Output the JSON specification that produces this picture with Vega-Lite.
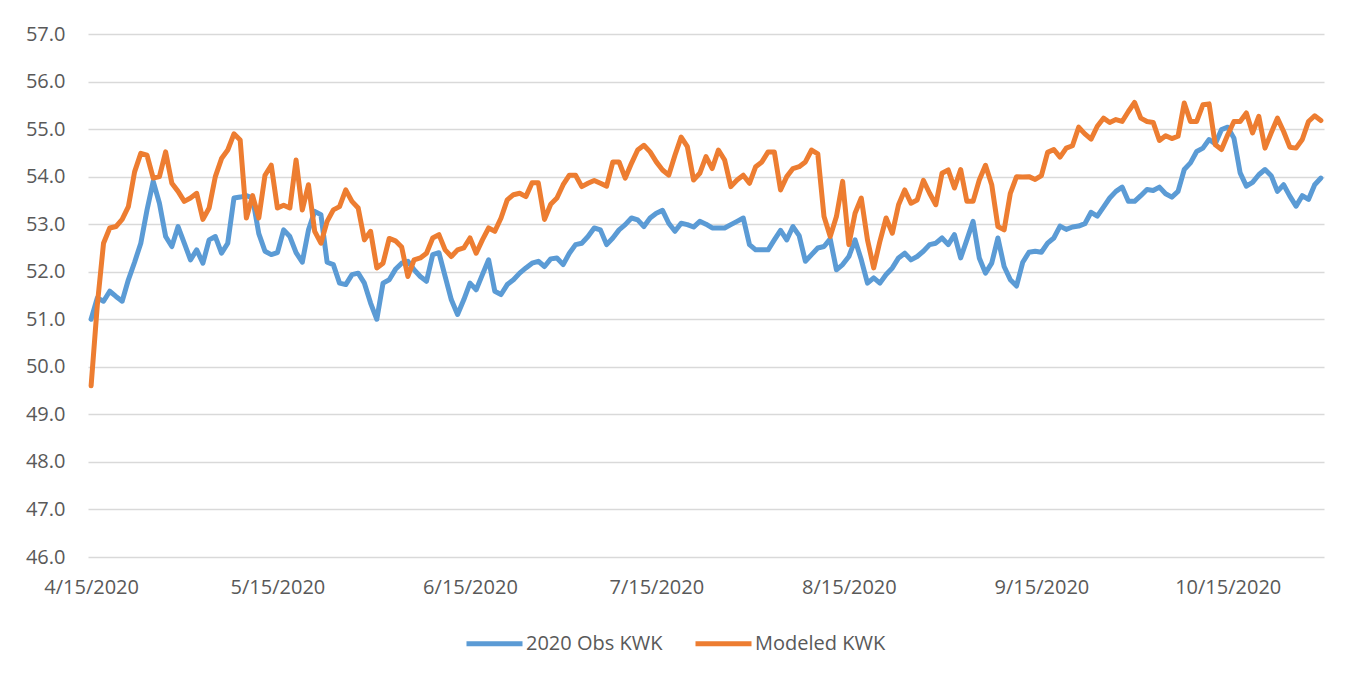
{
  "$schema": "https://vega.github.io/schema/vega-lite/v6.json",
  "width": 1236,
  "height": 523,
  "autosize": {"type": "none"},
  "padding": {"left": 88, "top": 34, "right": 32, "bottom": 119},
  "background": "white",
  "config": {"view": {"stroke": null}, "font": "Open Sans"},
  "data": {"values": [
    {"date":"2020-04-15","obs":51.0,"mod":49.6},
    {"date":"2020-04-16","obs":51.45,"mod":51.3},
    {"date":"2020-04-17","obs":51.38,"mod":52.6},
    {"date":"2020-04-18","obs":51.59,"mod":52.92},
    {"date":"2020-04-19","obs":51.48,"mod":52.95},
    {"date":"2020-04-20","obs":51.38,"mod":53.1},
    {"date":"2020-04-21","obs":51.83,"mod":53.37},
    {"date":"2020-04-22","obs":52.2,"mod":54.1},
    {"date":"2020-04-23","obs":52.6,"mod":54.49},
    {"date":"2020-04-24","obs":53.3,"mod":54.45},
    {"date":"2020-04-25","obs":53.9,"mod":53.97},
    {"date":"2020-04-26","obs":53.44,"mod":54.0},
    {"date":"2020-04-27","obs":52.74,"mod":54.52},
    {"date":"2020-04-28","obs":52.53,"mod":53.86},
    {"date":"2020-04-29","obs":52.95,"mod":53.69},
    {"date":"2020-04-30","obs":52.6,"mod":53.48},
    {"date":"2020-05-01","obs":52.25,"mod":53.55},
    {"date":"2020-05-02","obs":52.46,"mod":53.65},
    {"date":"2020-05-03","obs":52.18,"mod":53.1},
    {"date":"2020-05-04","obs":52.67,"mod":53.34},
    {"date":"2020-05-05","obs":52.74,"mod":54.0},
    {"date":"2020-05-06","obs":52.39,"mod":54.38},
    {"date":"2020-05-07","obs":52.6,"mod":54.56},
    {"date":"2020-05-08","obs":53.55,"mod":54.9},
    {"date":"2020-05-09","obs":53.57,"mod":54.77},
    {"date":"2020-05-10","obs":53.6,"mod":53.13},
    {"date":"2020-05-11","obs":53.55,"mod":53.6},
    {"date":"2020-05-12","obs":52.8,"mod":53.13},
    {"date":"2020-05-13","obs":52.43,"mod":54.03},
    {"date":"2020-05-14","obs":52.36,"mod":54.24},
    {"date":"2020-05-15","obs":52.4,"mod":53.34},
    {"date":"2020-05-16","obs":52.88,"mod":53.4},
    {"date":"2020-05-17","obs":52.74,"mod":53.34},
    {"date":"2020-05-18","obs":52.4,"mod":54.35},
    {"date":"2020-05-19","obs":52.2,"mod":53.3},
    {"date":"2020-05-20","obs":52.88,"mod":53.83},
    {"date":"2020-05-21","obs":53.27,"mod":52.85},
    {"date":"2020-05-22","obs":53.2,"mod":52.6},
    {"date":"2020-05-23","obs":52.2,"mod":53.06},
    {"date":"2020-05-24","obs":52.15,"mod":53.3},
    {"date":"2020-05-25","obs":51.76,"mod":53.37},
    {"date":"2020-05-26","obs":51.73,"mod":53.72},
    {"date":"2020-05-27","obs":51.94,"mod":53.48},
    {"date":"2020-05-28","obs":51.97,"mod":53.34},
    {"date":"2020-05-29","obs":51.76,"mod":52.67},
    {"date":"2020-05-30","obs":51.34,"mod":52.85},
    {"date":"2020-05-31","obs":51.0,"mod":52.08},
    {"date":"2020-06-01","obs":51.76,"mod":52.18},
    {"date":"2020-06-02","obs":51.83,"mod":52.7},
    {"date":"2020-06-03","obs":52.05,"mod":52.65},
    {"date":"2020-06-04","obs":52.18,"mod":52.52},
    {"date":"2020-06-05","obs":52.22,"mod":51.9},
    {"date":"2020-06-06","obs":52.04,"mod":52.25},
    {"date":"2020-06-07","obs":51.9,"mod":52.29},
    {"date":"2020-06-08","obs":51.8,"mod":52.39},
    {"date":"2020-06-09","obs":52.36,"mod":52.71},
    {"date":"2020-06-10","obs":52.4,"mod":52.78},
    {"date":"2020-06-11","obs":51.9,"mod":52.46},
    {"date":"2020-06-12","obs":51.41,"mod":52.32},
    {"date":"2020-06-13","obs":51.1,"mod":52.46},
    {"date":"2020-06-14","obs":51.41,"mod":52.5},
    {"date":"2020-06-15","obs":51.76,"mod":52.71},
    {"date":"2020-06-16","obs":51.62,"mod":52.39},
    {"date":"2020-06-17","obs":51.94,"mod":52.67},
    {"date":"2020-06-18","obs":52.25,"mod":52.92},
    {"date":"2020-06-19","obs":51.59,"mod":52.85},
    {"date":"2020-06-20","obs":51.52,"mod":53.13},
    {"date":"2020-06-21","obs":51.73,"mod":53.51},
    {"date":"2020-06-22","obs":51.83,"mod":53.62},
    {"date":"2020-06-23","obs":51.97,"mod":53.65},
    {"date":"2020-06-24","obs":52.08,"mod":53.58},
    {"date":"2020-06-25","obs":52.18,"mod":53.87},
    {"date":"2020-06-26","obs":52.22,"mod":53.87},
    {"date":"2020-06-27","obs":52.11,"mod":53.1},
    {"date":"2020-06-28","obs":52.27,"mod":53.42},
    {"date":"2020-06-29","obs":52.29,"mod":53.55},
    {"date":"2020-06-30","obs":52.15,"mod":53.83},
    {"date":"2020-07-01","obs":52.39,"mod":54.03},
    {"date":"2020-07-02","obs":52.57,"mod":54.03},
    {"date":"2020-07-03","obs":52.6,"mod":53.79},
    {"date":"2020-07-04","obs":52.74,"mod":53.86},
    {"date":"2020-07-05","obs":52.92,"mod":53.92},
    {"date":"2020-07-06","obs":52.88,"mod":53.86},
    {"date":"2020-07-07","obs":52.57,"mod":53.8},
    {"date":"2020-07-08","obs":52.71,"mod":54.31},
    {"date":"2020-07-09","obs":52.88,"mod":54.31},
    {"date":"2020-07-10","obs":52.99,"mod":53.97},
    {"date":"2020-07-11","obs":53.13,"mod":54.28},
    {"date":"2020-07-12","obs":53.09,"mod":54.56},
    {"date":"2020-07-13","obs":52.95,"mod":54.66},
    {"date":"2020-07-14","obs":53.13,"mod":54.52},
    {"date":"2020-07-15","obs":53.23,"mod":54.31},
    {"date":"2020-07-16","obs":53.29,"mod":54.14},
    {"date":"2020-07-17","obs":53.02,"mod":54.03},
    {"date":"2020-07-18","obs":52.85,"mod":54.45},
    {"date":"2020-07-19","obs":53.02,"mod":54.83},
    {"date":"2020-07-20","obs":52.99,"mod":54.63},
    {"date":"2020-07-21","obs":52.94,"mod":53.93},
    {"date":"2020-07-22","obs":53.06,"mod":54.07},
    {"date":"2020-07-23","obs":53.0,"mod":54.42},
    {"date":"2020-07-24","obs":52.92,"mod":54.17},
    {"date":"2020-07-25","obs":52.92,"mod":54.56},
    {"date":"2020-07-26","obs":52.92,"mod":54.35},
    {"date":"2020-07-27","obs":52.99,"mod":53.79},
    {"date":"2020-07-28","obs":53.06,"mod":53.93},
    {"date":"2020-07-29","obs":53.13,"mod":54.03},
    {"date":"2020-07-30","obs":52.57,"mod":53.86},
    {"date":"2020-07-31","obs":52.46,"mod":54.21},
    {"date":"2020-08-01","obs":52.46,"mod":54.31},
    {"date":"2020-08-02","obs":52.46,"mod":54.52},
    {"date":"2020-08-03","obs":52.67,"mod":54.52},
    {"date":"2020-08-04","obs":52.87,"mod":53.72},
    {"date":"2020-08-05","obs":52.67,"mod":54.0},
    {"date":"2020-08-06","obs":52.95,"mod":54.17},
    {"date":"2020-08-07","obs":52.76,"mod":54.21},
    {"date":"2020-08-08","obs":52.22,"mod":54.31},
    {"date":"2020-08-09","obs":52.36,"mod":54.56},
    {"date":"2020-08-10","obs":52.5,"mod":54.48},
    {"date":"2020-08-11","obs":52.53,"mod":53.16},
    {"date":"2020-08-12","obs":52.69,"mod":52.74},
    {"date":"2020-08-13","obs":52.04,"mod":53.16},
    {"date":"2020-08-14","obs":52.15,"mod":53.9},
    {"date":"2020-08-15","obs":52.32,"mod":52.57},
    {"date":"2020-08-16","obs":52.67,"mod":53.23},
    {"date":"2020-08-17","obs":52.25,"mod":53.55},
    {"date":"2020-08-18","obs":51.76,"mod":52.67},
    {"date":"2020-08-19","obs":51.87,"mod":52.08},
    {"date":"2020-08-20","obs":51.76,"mod":52.64},
    {"date":"2020-08-21","obs":51.94,"mod":53.13},
    {"date":"2020-08-22","obs":52.08,"mod":52.81},
    {"date":"2020-08-23","obs":52.29,"mod":53.41},
    {"date":"2020-08-24","obs":52.39,"mod":53.72},
    {"date":"2020-08-25","obs":52.25,"mod":53.44},
    {"date":"2020-08-26","obs":52.32,"mod":53.51},
    {"date":"2020-08-27","obs":52.43,"mod":53.92},
    {"date":"2020-08-28","obs":52.57,"mod":53.65},
    {"date":"2020-08-29","obs":52.6,"mod":53.41},
    {"date":"2020-08-30","obs":52.71,"mod":54.07},
    {"date":"2020-08-31","obs":52.57,"mod":54.14},
    {"date":"2020-09-01","obs":52.78,"mod":53.76},
    {"date":"2020-09-02","obs":52.29,"mod":54.15},
    {"date":"2020-09-03","obs":52.67,"mod":53.48},
    {"date":"2020-09-04","obs":53.06,"mod":53.48},
    {"date":"2020-09-05","obs":52.29,"mod":53.93},
    {"date":"2020-09-06","obs":51.97,"mod":54.24},
    {"date":"2020-09-07","obs":52.18,"mod":53.83},
    {"date":"2020-09-08","obs":52.71,"mod":52.95},
    {"date":"2020-09-09","obs":52.11,"mod":52.88},
    {"date":"2020-09-10","obs":51.83,"mod":53.65},
    {"date":"2020-09-11","obs":51.7,"mod":54.0},
    {"date":"2020-09-12","obs":52.2,"mod":53.99},
    {"date":"2020-09-13","obs":52.41,"mod":54.0},
    {"date":"2020-09-14","obs":52.43,"mod":53.94},
    {"date":"2020-09-15","obs":52.41,"mod":54.02},
    {"date":"2020-09-16","obs":52.6,"mod":54.51},
    {"date":"2020-09-17","obs":52.71,"mod":54.57},
    {"date":"2020-09-18","obs":52.96,"mod":54.41},
    {"date":"2020-09-19","obs":52.89,"mod":54.6},
    {"date":"2020-09-20","obs":52.94,"mod":54.65},
    {"date":"2020-09-21","obs":52.96,"mod":55.04},
    {"date":"2020-09-22","obs":53.01,"mod":54.9},
    {"date":"2020-09-23","obs":53.25,"mod":54.79},
    {"date":"2020-09-24","obs":53.17,"mod":55.06},
    {"date":"2020-09-25","obs":53.36,"mod":55.23},
    {"date":"2020-09-26","obs":53.55,"mod":55.14},
    {"date":"2020-09-27","obs":53.69,"mod":55.2},
    {"date":"2020-09-28","obs":53.78,"mod":55.16},
    {"date":"2020-09-29","obs":53.48,"mod":55.37},
    {"date":"2020-09-30","obs":53.48,"mod":55.56},
    {"date":"2020-10-01","obs":53.6,"mod":55.23},
    {"date":"2020-10-02","obs":53.73,"mod":55.16},
    {"date":"2020-10-03","obs":53.71,"mod":55.14},
    {"date":"2020-10-04","obs":53.78,"mod":54.76},
    {"date":"2020-10-05","obs":53.64,"mod":54.86},
    {"date":"2020-10-06","obs":53.57,"mod":54.8},
    {"date":"2020-10-07","obs":53.69,"mod":54.85},
    {"date":"2020-10-08","obs":54.15,"mod":55.55},
    {"date":"2020-10-09","obs":54.29,"mod":55.16},
    {"date":"2020-10-10","obs":54.53,"mod":55.16},
    {"date":"2020-10-11","obs":54.6,"mod":55.51},
    {"date":"2020-10-12","obs":54.78,"mod":55.53},
    {"date":"2020-10-13","obs":54.69,"mod":54.67},
    {"date":"2020-10-14","obs":54.99,"mod":54.57},
    {"date":"2020-10-15","obs":55.04,"mod":54.88},
    {"date":"2020-10-16","obs":54.81,"mod":55.16},
    {"date":"2020-10-17","obs":54.08,"mod":55.16},
    {"date":"2020-10-18","obs":53.8,"mod":55.34},
    {"date":"2020-10-19","obs":53.88,"mod":54.92},
    {"date":"2020-10-20","obs":54.04,"mod":55.27},
    {"date":"2020-10-21","obs":54.15,"mod":54.6},
    {"date":"2020-10-22","obs":54.02,"mod":54.92},
    {"date":"2020-10-23","obs":53.69,"mod":55.23},
    {"date":"2020-10-24","obs":53.83,"mod":54.95},
    {"date":"2020-10-25","obs":53.59,"mod":54.62},
    {"date":"2020-10-26","obs":53.38,"mod":54.6},
    {"date":"2020-10-27","obs":53.6,"mod":54.78},
    {"date":"2020-10-28","obs":53.52,"mod":55.16},
    {"date":"2020-10-29","obs":53.83,"mod":55.28},
    {"date":"2020-10-30","obs":53.97,"mod":55.18}
  ]},
  "transform": [{"fold": ["obs", "mod"], "as": ["series", "value"]}],
  "mark": {"type": "line", "strokeWidth": 5, "strokeJoin": "round", "strokeCap": "round"},
  "encoding": {
    "x": {
      "field": "date", "type": "temporal",
      "scale": {"type": "utc", "domain": [
        {"year": 2020, "month": 4, "date": 14, "hours": 12, "utc": true},
        {"year": 2020, "month": 10, "date": 30, "hours": 12, "utc": true}
      ]},
      "axis": {
        "title": null, "grid": false, "domain": false, "ticks": false,
        "values": [
          {"year": 2020, "month": 4, "date": 15, "utc": true},
          {"year": 2020, "month": 5, "date": 15, "utc": true},
          {"year": 2020, "month": 6, "date": 15, "utc": true},
          {"year": 2020, "month": 7, "date": 15, "utc": true},
          {"year": 2020, "month": 8, "date": 15, "utc": true},
          {"year": 2020, "month": 9, "date": 15, "utc": true},
          {"year": 2020, "month": 10, "date": 15, "utc": true}
        ],
        "format": "%-m/%-d/%Y",
        "labelFont": "Open Sans", "labelFontSize": 20, "labelColor": "#595959",
        "labelPadding": 20, "labelFlush": false, "labelOverlap": false
      }
    },
    "y": {
      "field": "value", "type": "quantitative",
      "scale": {"domain": [46, 57], "nice": false, "zero": false},
      "axis": {
        "title": null, "domain": false, "ticks": false,
        "values": [46, 47, 48, 49, 50, 51, 52, 53, 54, 55, 56, 57],
        "format": ".1f",
        "labelFont": "Open Sans", "labelFontSize": 20, "labelColor": "#595959",
        "labelPadding": 23,
        "gridColor": "#d9d9d9", "gridWidth": 1.5
      }
    },
    "color": {
      "field": "series", "type": "nominal",
      "scale": {"domain": ["obs", "mod"], "range": ["#5B9BD5", "#ED7D31"]},
      "legend": {
        "title": null, "orient": "none", "direction": "horizontal",
        "legendX": 376, "legendY": 579,
        "labelExpr": "datum.value == 'obs' ? '2020 Obs KWK' : 'Modeled KWK'",
        "symbolType": "stroke", "symbolSize": 3136, "symbolStrokeWidth": 5,
        "labelFont": "Open Sans", "labelFontSize": 20, "labelColor": "#595959",
        "labelOffset": 1, "columnPadding": 22
      }
    }
  }
}
